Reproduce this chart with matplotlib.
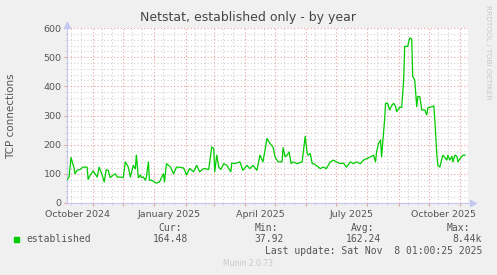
import datetime as dt
import matplotlib
matplotlib.use('Agg')
import matplotlib.pyplot as plt
import matplotlib.dates as mdates
from matplotlib.ticker import MultipleLocator

# data: days after 2024-10-06 and connection counts
start = dt.datetime(2024, 10, 6)
days = [0, 2, 4, 7, 8, 10, 13, 16, 18, 20, 21, 23, 26, 28, 30, 32, 35, 37, 39, 41,
        43, 46, 48, 50, 53, 56, 58, 61, 63, 66, 68, 69, 71, 73, 74, 76, 78, 79, 81, 82,
        84, 87, 89, 92, 94, 96, 97, 99, 103, 106, 109, 112, 116, 119, 122, 126, 129, 132, 136, 137,
        141, 144, 146, 147, 149, 151, 153, 156, 159, 163, 164, 167, 172, 175, 179, 182, 185, 189, 192, 195,
        199, 202, 205, 207, 210, 214, 215, 217, 219, 221, 223, 225, 229, 234, 237, 239, 240, 242, 244, 245,
        248, 252, 255, 258, 262, 265, 268, 272, 275, 278, 282, 285, 288, 292, 295, 298, 302, 305, 307, 308,
        310, 312, 313, 315, 316, 317, 319, 321, 323, 325, 327, 328, 331, 333, 335, 336, 339, 341, 343, 344,
        346, 348, 349, 351, 353, 356, 358, 359, 363, 365, 366, 368, 369, 371, 373, 374, 378, 379, 381, 383,
        384, 386, 388, 389, 391, 394, 396]
established = [80, 89, 156, 120, 100, 112, 115, 123, 123, 123, 81, 95, 110, 100, 89, 123, 96, 72, 114, 112,
               87, 96, 100, 89, 89, 87, 141, 123, 89, 129, 117, 164, 87, 96, 87, 89, 78, 89, 141, 78,
               78, 72, 68, 72, 87, 100, 72, 135, 123, 100, 123, 123, 120, 96, 118, 107, 129, 107, 118, 118,
               115, 192, 187, 107, 164, 123, 115, 135, 129, 107, 137, 135, 141, 112, 129, 118, 129, 112, 164, 141,
               221, 204, 192, 158, 141, 141, 190, 158, 164, 175, 135, 141, 135, 141, 229, 170, 164, 170, 135, 135,
               129, 118, 123, 118, 141, 147, 141, 135, 137, 123, 141, 135, 141, 135, 147, 152, 158, 164, 141, 175,
               204, 216, 158, 244, 284, 342, 342, 319, 333, 342, 330, 313, 328, 328, 422, 537, 537, 566, 562, 434,
               422, 330, 365, 365, 319, 319, 302, 326, 330, 333, 284, 164, 129, 123, 152, 164, 147, 164, 147, 160,
               141, 164, 160, 141, 152, 164, 164]
month_labels = ['October 2024', 'January 2025', 'April 2025', 'July 2025', 'October 2025']
label_dates = [dt.datetime(2024, 10, 16), dt.datetime(2025, 1, 16), dt.datetime(2025, 4, 16),
               dt.datetime(2025, 7, 16), dt.datetime(2025, 10, 16)]

dates = [start + dt.timedelta(days=d) for d in days]

txt = '#555555'
red = '#e4a0a0'
grey = '#d0d0d0'
axcol = '#c4c8f0'

fig = plt.figure(figsize=(4.97, 2.75), dpi=100, facecolor='#f0f0f0')
ax = fig.add_axes([67 / 497, 1 - 203 / 275, 401 / 497, 175 / 275])
ax.set_facecolor('white')

ax.plot(dates, established, color='#00cc00', lw=0.9, zorder=5)

ax.set_xlim(dt.datetime(2024, 10, 6), dt.datetime(2025, 11, 9))
ax.set_ylim(0, 600)

ax.xaxis.set_major_locator(mdates.MonthLocator(bymonthday=1))
ax.xaxis.set_minor_locator(mdates.MonthLocator(bymonthday=[10, 20]))
ax.xaxis.set_major_formatter(plt.NullFormatter())
ax.yaxis.set_major_locator(MultipleLocator(100))
ax.yaxis.set_minor_locator(MultipleLocator(20))

ax.grid(which='major', color=red, ls=(0, (1, 2)), lw=0.8)
ax.grid(which='minor', color=grey, ls=(0, (1, 2)), lw=0.8)
ax.set_axisbelow(True)

ax.tick_params(which='major', length=2, color=red, labelsize=6.8, labelcolor=txt, pad=2)
ax.tick_params(which='minor', length=1.5, color=grey)
ax.tick_params(axis='x', which='major', pad=9)

for lab, d in zip(month_labels, label_dates):
    ax.text(d, -0.04, lab, transform=ax.get_xaxis_transform(), ha='center', va='top',
            fontsize=6.8, color=txt)

for s in ['top', 'right']:
    ax.spines[s].set_visible(False)
for s in ['left', 'bottom']:
    ax.spines[s].set_color(axcol)
    ax.spines[s].set_linewidth(0.8)

# axis arrows like rrdtool
ax.plot([1.012], [0], marker='>', ms=4, color=axcol, transform=ax.transAxes, clip_on=False)
ax.plot([0], [1.02], marker='^', ms=4, color=axcol, transform=ax.transAxes, clip_on=False)

fig.text(11 / 497, 1 - 116 / 275, 'TCP connections', rotation=90, ha='center', va='center',
         fontsize=7.5, color=txt)
fig.text(248 / 497, 1 - 17 / 275, 'Netstat, established only - by year', ha='center', va='center',
         fontsize=9, color='#444444')
fig.text(488 / 497, 1 - 5 / 275, 'RRDTOOL / TOBI OETIKER', rotation=270, ha='center', va='top',
         fontsize=5.3, color='#c8c8c8')

# legend block
mono = 'DejaVu Sans Mono'
fig.patches.append(plt.Rectangle((14 / 497, 1 - 242 / 275), 5 / 497, 5 / 275,
                                 transform=fig.transFigure, color='#00cc00'))
fig.text(26 / 497, 1 - 239.5 / 275, 'established', family=mono, fontsize=7, color=txt, va='center')
heads = ['Cur:', 'Min:', 'Avg:', 'Max:']
vals = ['164.48', '37.92', '162.24', '8.44k']
head_x = [182, 278, 374, 470]
val_x = [188, 284, 381, 482]
for h, v, hx, vx in zip(heads, vals, head_x, val_x):
    fig.text(hx / 497, 1 - 228 / 275, h, family=mono, fontsize=7, color=txt, ha='right', va='center')
    fig.text(vx / 497, 1 - 239.5 / 275, v, family=mono, fontsize=7, color=txt, ha='right', va='center')
fig.text(482 / 497, 1 - 251.5 / 275, 'Last update: Sat Nov  8 01:00:25 2025', family=mono,
         fontsize=7, color=txt, ha='right', va='center')
fig.text(248 / 497, 1 - 264 / 275, 'Munin 2.0.73', fontsize=5.5, color='#c8c8c8', ha='center', va='center')

fig.savefig('out.png', dpi=100, facecolor=fig.get_facecolor())
